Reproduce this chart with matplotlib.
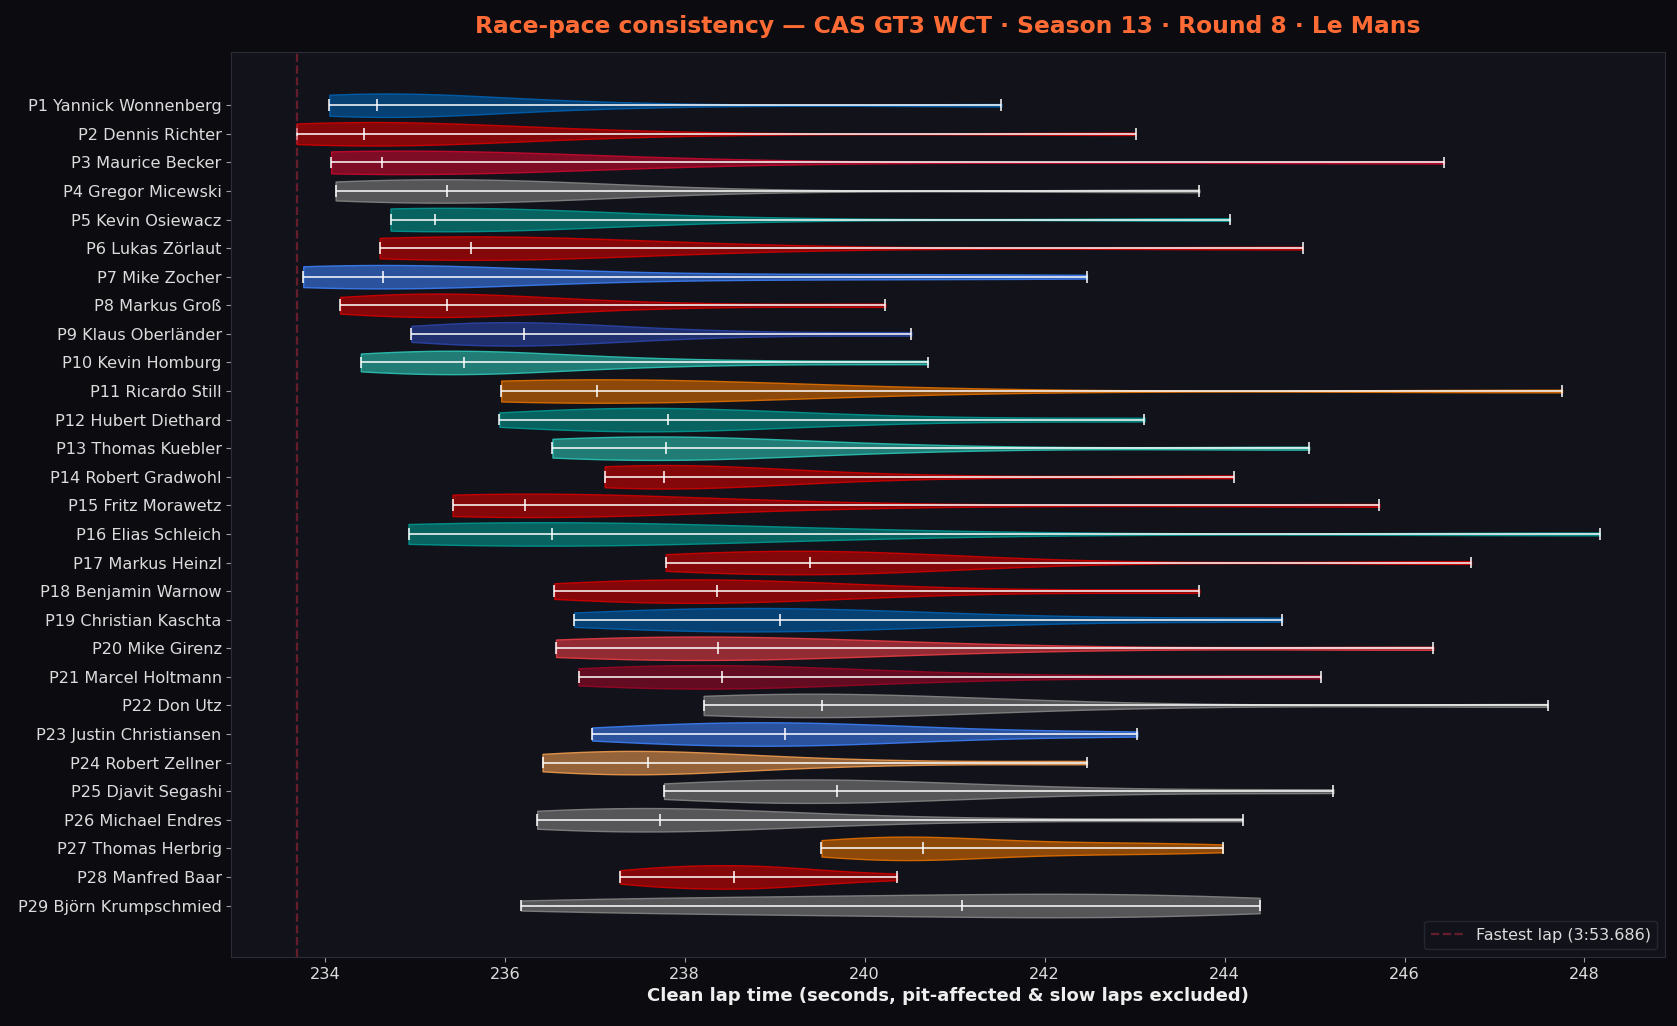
import numpy as np
import matplotlib
matplotlib.use("Agg")
import matplotlib.pyplot as plt
from matplotlib.colors import to_rgba

# driver names (finishing order)
drivers = [
    "P1 Yannick Wonnenberg", "P2 Dennis Richter", "P3 Maurice Becker",
    "P4 Gregor Micewski", "P5 Kevin Osiewacz", "P6 Lukas Zörlaut",
    "P7 Mike Zocher", "P8 Markus Groß", "P9 Klaus Oberländer",
    "P10 Kevin Homburg", "P11 Ricardo Still", "P12 Hubert Diethard",
    "P13 Thomas Kuebler", "P14 Robert Gradwohl", "P15 Fritz Morawetz",
    "P16 Elias Schleich", "P17 Markus Heinzl", "P18 Benjamin Warnow",
    "P19 Christian Kaschta", "P20 Mike Girenz", "P21 Marcel Holtmann",
    "P22 Don Utz", "P23 Justin Christiansen", "P24 Robert Zellner",
    "P25 Djavit Segashi", "P26 Michael Endres", "P27 Thomas Herbrig",
    "P28 Manfred Baar", "P29 Björn Krumpschmied",
]

# team colour per driver
team_colors = [
    "#0060b0", "#d20000", "#c8082e", "#848484", "#009890", "#d20000",
    "#3c7ef5", "#d20000", "#2b44a8", "#2cc4b4", "#e06e00", "#009890",
    "#2cc4b4", "#d20000", "#d20000", "#009890", "#d20000", "#d20000",
    "#0060b0", "#e83c44", "#9a0626", "#848484", "#3c7ef5", "#ec9a4e",
    "#848484", "#848484", "#e06e00", "#d20000", "#848484",
]

# clean lap times in seconds
laps_p1 = [234.05, 234.15, 234.28, 234.40, 234.50, 234.55, 234.58, 234.85, 235.10, 235.40, 236.10, 237.30, 241.52]
laps_p2 = [233.686, 233.85, 234.00, 234.15, 234.28, 234.38, 234.44, 234.70, 235.00, 235.40, 236.00, 237.20, 243.01]
laps_p3 = [234.07, 234.18, 234.30, 234.42, 234.52, 234.58, 234.63, 234.90, 235.20, 235.60, 236.30, 237.80, 246.44]
laps_p4 = [234.12, 234.45, 234.80, 235.05, 235.22, 235.36, 235.55, 235.80, 236.20, 237.10, 243.72]
laps_p5 = [234.73, 234.85, 234.96, 235.05, 235.14, 235.22, 235.40, 235.70, 236.30, 237.80, 244.06]
laps_p6 = [234.61, 234.90, 235.15, 235.35, 235.50, 235.63, 235.85, 236.20, 236.80, 238.40, 244.87]
laps_p7 = [233.76, 234.00, 234.20, 234.35, 234.50, 234.58, 234.65, 234.90, 235.50, 236.60, 238.40, 240.30, 242.47]
laps_p8 = [234.17, 234.50, 234.80, 235.05, 235.22, 235.36, 235.60, 235.95, 236.50, 237.60, 240.23]
laps_p9 = [234.96, 235.30, 235.60, 235.85, 236.05, 236.21, 236.45, 236.80, 237.40, 238.30, 240.52]
laps_p10 = [234.40, 234.70, 234.95, 235.20, 235.40, 235.55, 235.80, 236.20, 236.90, 238.20, 240.70]
laps_p11 = [235.96, 236.25, 236.50, 236.70, 236.88, 237.03, 237.25, 237.60, 238.30, 240.00, 247.75]
laps_p12 = [235.94, 236.50, 236.90, 237.25, 237.55, 237.81, 238.10, 238.50, 239.20, 240.40, 243.11]
laps_p13 = [236.53, 236.85, 237.10, 237.35, 237.60, 237.79, 238.05, 238.40, 239.10, 240.50, 244.94]
laps_p14 = [237.11, 237.25, 237.40, 237.55, 237.68, 237.77, 237.95, 238.25, 238.80, 240.10, 244.10]
laps_p15 = [235.42, 235.60, 235.80, 235.95, 236.10, 236.22, 236.45, 236.85, 237.60, 239.40, 245.72]
laps_p16 = [234.93, 235.30, 235.65, 235.95, 236.25, 236.52, 236.85, 237.30, 238.10, 240.00, 248.17]
laps_p17 = [237.79, 238.20, 238.60, 238.90, 239.15, 239.39, 239.60, 239.90, 240.30, 241.00, 246.74]
laps_p18 = [236.55, 236.90, 237.30, 237.70, 238.05, 238.36, 238.65, 239.00, 239.60, 240.70, 243.72]
laps_p19 = [236.77, 237.30, 237.80, 238.30, 238.70, 239.06, 239.40, 239.90, 240.60, 241.80, 244.64]
laps_p20 = [236.57, 236.95, 237.35, 237.75, 238.10, 238.37, 238.70, 239.15, 239.90, 241.40, 246.32]
laps_p21 = [236.82, 237.20, 237.55, 237.90, 238.20, 238.41, 238.70, 239.10, 239.80, 241.30, 245.07]
laps_p22 = [238.21, 238.50, 238.80, 239.05, 239.30, 239.53, 239.80, 240.20, 240.90, 242.40, 247.59]
laps_p23 = [236.97, 237.50, 237.95, 238.40, 238.80, 239.11, 239.45, 239.85, 240.40, 241.30, 243.03]
laps_p24 = [236.42, 236.70, 236.95, 237.20, 237.40, 237.59, 237.85, 238.20, 238.80, 239.90, 242.47]
laps_p25 = [237.77, 238.20, 238.60, 239.00, 239.35, 239.69, 240.00, 240.40, 241.10, 242.40, 245.21]
laps_p26 = [236.36, 236.70, 237.00, 237.25, 237.50, 237.73, 238.00, 238.40, 239.10, 240.50, 244.20]
laps_p27 = [239.52, 239.90, 240.20, 240.40, 240.55, 240.65, 241.20, 241.90, 242.60, 243.30, 243.98]
laps_p28 = [237.28, 237.55, 237.80, 238.05, 238.30, 238.55, 238.75, 238.95, 239.20, 239.60, 240.36]
laps_p29 = [236.18, 237.10, 238.00, 238.90, 239.70, 240.40, 241.08, 241.70, 242.30, 242.80, 243.30, 243.90, 244.39]

fastest_lap = 233.686
fastest_label = "Fastest lap (3:53.686)"

all_laps = [laps_p1, laps_p2, laps_p3, laps_p4, laps_p5, laps_p6, laps_p7, laps_p8,
            laps_p9, laps_p10, laps_p11, laps_p12, laps_p13, laps_p14, laps_p15,
            laps_p16, laps_p17, laps_p18, laps_p19, laps_p20, laps_p21, laps_p22,
            laps_p23, laps_p24, laps_p25, laps_p26, laps_p27, laps_p28, laps_p29]

fig_bg = "#0b0b10"
ax_bg = "#12131a"
txt = "#dcdcdc"

fig = plt.figure(figsize=(16.77, 10.26), dpi=100, facecolor=fig_bg)
ax = fig.add_axes([0.138, 0.0673, 0.8548, 0.8817])
ax.set_facecolor(ax_bg)

pos = np.arange(len(drivers))
vp = ax.violinplot(all_laps, positions=pos, vert=False, widths=0.82,
                   showmedians=True, showextrema=True)

for body, c in zip(vp["bodies"], team_colors):
    body.set_facecolor(to_rgba(c, 0.6))
    body.set_edgecolor(to_rgba(c, 0.9))
    body.set_linewidth(1.0)
    body.set_alpha(None)

for key in ("cbars", "cmins", "cmaxes", "cmedians"):
    vp[key].set_color("white")
    vp[key].set_linewidth(1.1)

ax.axvline(fastest_lap, color="#b8283f", alpha=0.5, ls="--", lw=1.6, label=fastest_label)

ax.set_yticks(pos)
ax.set_yticklabels(drivers)
ax.set_ylim(len(drivers) - 1 + 1.8, -1.85)

ax.tick_params(colors="#9a9aa5", labelcolor=txt, labelsize=11.6)
for sp in ax.spines.values():
    sp.set_color("#2a2c36")

ax.set_xlabel("Clean lap time (seconds, pit-affected & slow laps excluded)",
              color="#eeeeee", fontsize=13, fontweight="bold")
ax.set_title("Race-pace consistency — CAS GT3 WCT · Season 13 · Round 8 · Le Mans",
             color="#ff6b35", fontsize=16.8, fontweight="bold", pad=14)

leg = ax.legend(loc="lower right", facecolor=ax_bg, edgecolor="#2a2c36",
                fontsize=11.5, labelcolor=txt)

fig.savefig("out.png", dpi=100, facecolor=fig_bg)
